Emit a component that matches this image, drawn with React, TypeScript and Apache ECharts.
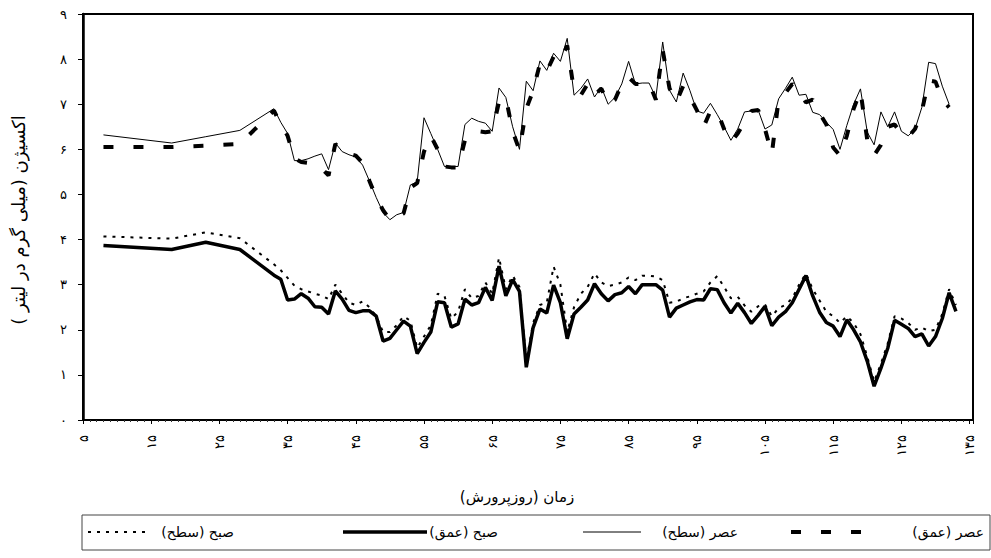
import React, { useEffect, useRef } from "react";
import * as echarts from "echarts";

// Days of rearing (x values)
const days = [
  8, 18, 23, 28,
  33, 34, 35, 36, 37, 38, 39, 40, 41, 42,
  43, 44, 45, 46, 47, 48, 49, 50, 51, 52,
  53, 54, 55, 56, 57, 58, 59, 60, 61, 62,
  63, 64, 65, 66, 67, 68, 69, 70, 71, 72,
  73, 74, 75, 76, 77, 78, 79, 80, 81, 82,
  83, 84, 85, 86, 87, 88, 89, 90, 91, 92,
  93, 94, 95, 96, 97, 98, 99, 100, 101, 102,
  103, 104, 105, 106, 107, 108, 109, 110, 111, 112,
  113, 114, 115, 116, 117, 118, 119, 120, 121, 122,
  123, 124, 125, 126, 127, 128, 129, 130, 131, 132,
  133,
];

// عصر (عمق) — afternoon, deep
const asrDeep = [
  6.05, 6.05, 6.08, 6.12,
  6.86, 6.55, 6.3, 5.8, 5.72, 5.7, 5.62, 5.58, 5.42, 6.12,
  5.95, 5.9, 5.86, 5.7, 5.3, 4.93, 4.65, 4.44, 4.5, 4.58,
  5.15, 5.25, 5.95, 6.3, 6.0, 5.62, 5.6, 5.6, 6.2, 6.38,
  6.4, 6.38, 6.4, 7.05, 7.15, 6.4, 5.98, 6.9, 7.3, 7.9,
  7.73, 8.05, 7.95, 8.3, 7.3, 7.2, 7.45, 7.2, 7.35, 7.0,
  7.1, 7.45, 7.6, 7.45, 7.45, 7.47, 7.1, 8.2, 7.35, 7.05,
  7.4, 7.16, 6.87, 6.5, 6.85, 6.85, 6.45, 6.16, 6.35, 6.6,
  6.85, 6.87, 6.45, 5.9, 7.1, 7.25, 7.45, 7.3, 7.04, 7.1,
  6.8, 6.55, 6.04, 5.86, 6.3, 6.9, 7.3, 6.2, 5.87, 6.1,
  6.5, 6.55, 6.35, 6.27, 6.45, 6.85, 7.53, 7.5, 7.1, 6.93,
  null,
];

// عصر (سطح) — afternoon, surface
const asrSurface = [
  6.32, 6.14, 6.28, 6.42,
  6.9, 6.6, 6.35, 5.75, 5.75, 5.79, 5.85, 5.9, 5.55, 6.14,
  5.95, 5.88, 5.83, 5.65, 5.3, 4.93, 4.6, 4.44, 4.55, 4.6,
  5.21, 5.28, 6.7, 6.35, 6.0, 5.62, 5.62, 5.62, 6.55, 6.69,
  6.62, 6.58, 6.4, 7.36, 7.15, 6.5, 6.0, 7.51, 7.3, 7.96,
  7.75, 8.13, 7.95, 8.46, 7.2, 7.35, 7.56, 7.16, 7.38, 7.0,
  7.15, 7.45, 7.95, 7.45, 7.47, 7.47, 7.15, 8.38, 7.31, 7.05,
  7.69, 7.3, 6.85, 6.8, 7.02, 6.77, 6.5, 6.2, 6.45, 6.83,
  6.85, 6.87, 6.45, 6.54, 7.12, 7.35, 7.6, 7.2, 7.22, 6.82,
  6.77, 6.6, 6.44, 6.0, 6.53, 7.0, 7.34, 6.38, 6.1, 6.83,
  6.5, 6.83, 6.4, 6.3, 6.45, 6.93, 7.93, 7.9, 7.4, 7.0,
  null,
];

// صبح (عمق) — morning, deep
const sobhDeep = [
  3.87, 3.78, 3.94, 3.78,
  3.21, 3.12, 2.66, 2.68, 2.8, 2.7, 2.51, 2.5, 2.35, 2.86,
  2.68, 2.43, 2.38, 2.42, 2.42, 2.3, 1.75, 1.81, 2.0, 2.19,
  2.08, 1.47, 1.72, 1.95, 2.62, 2.6, 2.06, 2.13, 2.68, 2.55,
  2.6, 2.94, 2.65, 3.41, 2.75, 3.11, 2.85, 1.17, 2.05, 2.46,
  2.37, 2.99, 2.6, 1.8, 2.35, 2.5, 2.66, 3.02, 2.8, 2.64,
  2.78, 2.82, 2.96, 2.8, 3.0, 3.0, 3.0, 2.88, 2.28, 2.48,
  2.55, 2.62, 2.67, 2.66, 2.91, 2.89, 2.6, 2.37, 2.59, 2.38,
  2.14, 2.32, 2.52, 2.09, 2.28, 2.4, 2.6, 2.9, 3.2, 2.75,
  2.39, 2.16, 2.08, 1.85, 2.22, 2.0, 1.73, 1.3, 0.75, 1.15,
  1.59, 2.21, 2.12, 2.03, 1.85, 1.91, 1.64, 1.85, 2.25, 2.82,
  2.41,
];

// صبح (سطح) — morning, surface
const sobhSurface = [
  4.07, 4.02, 4.16, 4.03,
  3.45, 3.32, 3.15, 2.98, 2.9, 2.85, 2.8, 2.76, 2.68, 3.0,
  2.8, 2.6, 2.55, 2.63, 2.5, 2.3, 1.95, 1.95, 2.1, 2.3,
  2.2, 1.6, 1.85, 2.1, 2.8, 2.75, 2.25, 2.4, 2.9, 2.7,
  2.75, 3.05, 2.8, 3.6, 2.9, 3.2, 2.95, 1.3, 2.15, 2.55,
  2.6, 3.4, 3.0, 1.95, 2.5, 2.8, 2.95, 3.25, 3.05, 2.97,
  3.0, 3.05, 3.16, 3.1, 3.2, 3.2, 3.18, 3.1, 2.6, 2.62,
  2.7, 2.74, 2.8, 2.85, 3.05, 3.19, 2.95, 2.7, 2.73, 2.54,
  2.4, 2.52, 2.56, 2.3, 2.48, 2.55, 2.7, 3.0, 3.25, 2.9,
  2.65, 2.4, 2.3, 2.15, 2.3, 2.15, 1.9, 1.4, 0.85, 1.25,
  1.7, 2.3, 2.25, 2.15, 2.0, 2.05, 1.97, 2.0, 2.35, 2.9,
  2.55,
];

const persianDigits = ["۰", "۱", "۲", "۳", "۴", "۵", "۶", "۷", "۸", "۹"];
const RLM = "\u200F";
const seriesNames = ["عصر (عمق)", "عصر (سطح)", "صبح (عمق)", "صبح (سطح)"];
const xTitle = "زمان (روزپرورش)";
const yTitle = "اکسیژن (میلی گرم در لیتر )";

const FONT = '"DejaVu Sans", sans-serif';

const toFa = (n: number) =>
  String(n).replace(/\d/g, (d) => persianDigits[Number(d)]);

const pairs = (vals: (number | null)[]) => days.map((d, i) => [d, vals[i]]);

export default function App() {
  const ref = useRef<HTMLDivElement>(null);

  useEffect(() => {
    if (!ref.current) return;
    const chart = echarts.init(ref.current, null, { renderer: "svg" });

    const legendY = 532;
    const legendItems = [
      { name: seriesNames[3], x1: 88, x2: 145, textX: 234, style: { lineWidth: 2, lineDash: [3, 6] } },
      { name: seriesNames[2], x1: 343, x2: 427, textX: 498, style: { lineWidth: 3.5 } },
      { name: seriesNames[1], x1: 583, x2: 641, textX: 738, style: { lineWidth: 1 } },
      { name: seriesNames[0], x1: 791, x2: 861, textX: 984, style: { lineWidth: 4, lineDash: [10, 20] } },
    ];

    const graphic: any[] = [
      {
        type: "rect",
        shape: { x: 82, y: 515, width: 908, height: 35 },
        style: { fill: "none", stroke: "#444", lineWidth: 1 },
        silent: true,
      },
      {
        type: "text",
        x: 517,
        y: 497,
        style: {
          text: xTitle + RLM,
          fontFamily: FONT,
          fontSize: 15,
          fill: "#000",
          align: "center",
          verticalAlign: "middle",
        },
      },
      {
        type: "text",
        x: 18,
        y: 220,
        rotation: Math.PI / 2,
        style: {
          text: yTitle + RLM,
          fontFamily: FONT,
          fontSize: 18,
          fill: "#000",
          align: "center",
          verticalAlign: "middle",
        },
      },
    ];
    legendItems.forEach((it) => {
      graphic.push({
        type: "line",
        shape: { x1: it.x1, y1: legendY, x2: it.x2, y2: legendY },
        style: { stroke: "#000", ...it.style },
        silent: true,
      });
      graphic.push({
        type: "text",
        x: it.textX,
        y: legendY,
        style: {
          text: it.name + RLM,
          fontFamily: FONT,
          fontSize: 14,
          fill: "#000",
          align: "right",
          verticalAlign: "middle",
        },
      });
    });

    chart.setOption({
      animation: false,
      backgroundColor: "#fff",
      textStyle: { fontFamily: FONT },
      grid: {
        left: 83,
        right: 18,
        top: 14,
        bottom: 138,
        show: true,
        borderColor: "#000",
        borderWidth: 2,
        backgroundColor: "transparent",
      },
      xAxis: {
        type: "value",
        min: 5,
        max: 135.5,
        interval: 10,
        axisLine: { show: true, lineStyle: { color: "#000", width: 2 } },
        axisTick: { show: true, length: 4, lineStyle: { color: "#000", width: 1 } },
        minorTick: { show: true, splitNumber: 10, length: 2, lineStyle: { color: "#333", width: 1 } },
        splitLine: { show: false },
        axisLabel: {
          rotate: 90,
          margin: 15,
          color: "#000",
          fontSize: 13,
          fontFamily: FONT,
          showMaxLabel: false,
          formatter: (v: number) => ((v - 5) % 10 === 0 ? toFa(v) : ""),
        },
      },
      yAxis: {
        type: "value",
        min: 0,
        max: 9,
        interval: 1,
        axisLine: { show: true, lineStyle: { color: "#000", width: 2.5 } },
        axisTick: { show: true, length: 5, lineStyle: { color: "#000", width: 1 } },
        splitLine: { show: false },
        axisLabel: {
          margin: 16,
          color: "#000",
          fontSize: 13,
          fontFamily: FONT,
          formatter: (v: number) => persianDigits[v] ?? toFa(v),
        },
      },
      graphic,
      series: [
        {
          name: seriesNames[1],
          type: "line",
          data: pairs(asrSurface),
          showSymbol: false,
          symbol: "none",
          lineStyle: { color: "#000", width: 1 },
          z: 2,
        },
        {
          name: seriesNames[0],
          type: "line",
          data: pairs(asrDeep),
          showSymbol: false,
          symbol: "none",
          lineStyle: { color: "#000", width: 4, type: [10, 20] },
          z: 3,
        },
        {
          name: seriesNames[3],
          type: "line",
          data: pairs(sobhSurface),
          showSymbol: false,
          symbol: "none",
          lineStyle: { color: "#000", width: 2, type: [3, 6] },
          z: 2,
        },
        {
          name: seriesNames[2],
          type: "line",
          data: pairs(sobhDeep),
          showSymbol: false,
          symbol: "none",
          lineStyle: { color: "#000", width: 3.5 },
          z: 3,
        },
      ],
    });

    return () => chart.dispose();
  }, []);

  return (
    <div
      ref={ref}
      style={{ position: "fixed", left: 0, top: 0, width: 991, height: 558, background: "#fff" }}
    />
  );
}
